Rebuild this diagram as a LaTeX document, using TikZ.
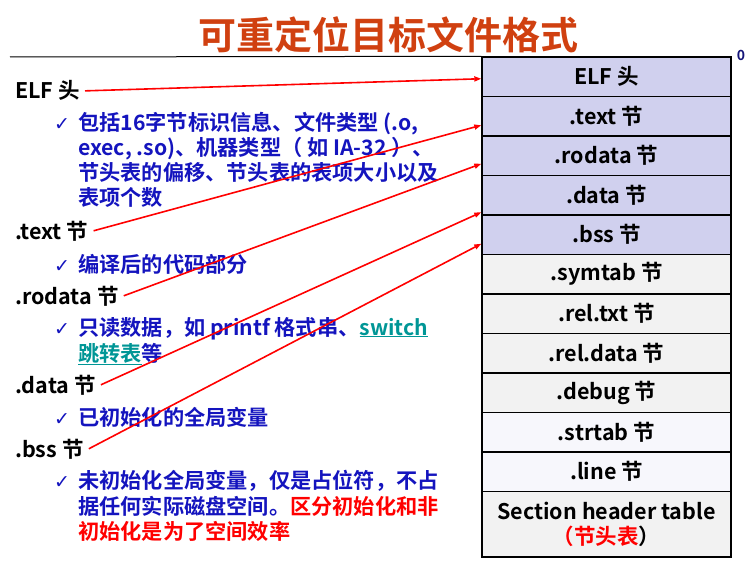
\documentclass[tikz,border=0pt]{standalone}
\usepackage{fontspec}
\setmainfont{Noto Sans CJK SC}[BoldFont={Noto Sans CJK SC Bold}]
\newfontfamily\symfont{DejaVu Sans}
\usetikzlibrary{arrows.meta}
\definecolor{titlered}{RGB}{208,64,16}
\definecolor{txtblue}{RGB}{20,20,190}
\definecolor{tealtxt}{RGB}{0,150,150}
\definecolor{hdrfill}{RGB}{208,208,238}
\definecolor{grayfill}{RGB}{242,242,242}
\definecolor{palefill}{RGB}{247,247,252}
\definecolor{zeroblue}{RGB}{20,20,120}
\tikzset{
  secbox/.style={draw=black, line width=1.4pt, minimum width=249pt, minimum height=39.5pt,
    inner sep=0pt, font=\fontsize{21.5}{25}\selectfont\bfseries, text=black},
  lefttag/.style={anchor=base west, inner sep=2pt, font=\fontsize{21.5}{25}\selectfont\bfseries, text=black},
  desctext/.style={anchor=base west, inner sep=0pt, text=txtblue, font=\fontsize{21.2}{25}\selectfont\bfseries},
  checkmk/.style={anchor=base west, inner sep=0pt, text=txtblue, font=\symfont\fontsize{19}{22}\selectfont},
  ptr/.style={red, line width=1.6pt, -{Triangle[length=7pt,width=5pt]}}
}
\begin{document}
\begin{tikzpicture}[x=1pt,y=-1pt]
\useasboundingbox (0,0) rectangle (751,577);

% title and rule
\node[text=titlered, font=\fontsize{38}{40}\selectfont\bfseries] (title) at (388,35) {可重定位目标文件格式};
\node[text=zeroblue, font=\fontsize{14}{16}\selectfont\bfseries, inner sep=0pt] (zero) at (741,55) {0};

% section stack
\node[secbox, fill=hdrfill]   (b1)  at (606.5,76.75)  {ELF 头};
\node[secbox, fill=hdrfill]   (b2)  at (606.5,116.25) {.text 节};
\node[secbox, fill=hdrfill]   (b3)  at (606.5,155.75) {.rodata 节};
\node[secbox, fill=hdrfill]   (b4)  at (606.5,195.25) {.data 节};
\node[secbox, fill=hdrfill]   (b5)  at (606.5,234.75) {.bss 节};
\node[secbox, fill=grayfill]  (b6)  at (606.5,274.25) {.symtab 节};
\node[secbox, fill=grayfill]  (b7)  at (606.5,313.75) {.rel.txt 节};
\node[secbox, fill=grayfill]  (b8)  at (606.5,353.25) {.rel.data 节};
\node[secbox, fill=grayfill]  (b9)  at (606.5,392.75) {.debug 节};
\node[secbox, fill=palefill]  (b10) at (606.5,432.25) {.strtab 节};
\node[secbox, fill=palefill]  (b11) at (606.5,471.75) {.line 节};
\node[secbox, fill=grayfill, minimum height=65.5pt, align=center] (b12) at (606.5,524.25)
  {Section header table\\{\color{red}（节头表}）};

\draw[line width=1pt] (10,57) -- (b1.north west);

% left column
\node[lefttag] (lelf) at (13,99) {ELF 头};
\node[checkmk] (c1) at (54,131) {✓};
\node[desctext] (d1a) at (78,131) {包括16字节标识信息、文件类型 (.o,};
\node[desctext] (d1b) at (78,156) {exec, .so)、机器类型（ 如 IA-32 ）、};
\node[desctext] (d1c) at (78,181) {节头表的偏移、节头表的表项大小以及};
\node[desctext] (d1d) at (78,206) {表项个数};

\node[lefttag] (ltext) at (13,239) {.text 节};
\node[checkmk] (c2) at (54,272) {✓};
\node[desctext] (d2) at (78,272) {编译后的代码部分};

\node[lefttag] (lrod) at (13,304) {.rodata 节};
\node[checkmk] (c3) at (54,335) {✓};
\node[desctext] (d3a) at (78,335) {只读数据，如 printf 格式串、{\color{tealtxt}\underline{switch}}};
\node[desctext] (d3b) at (78,361) {{\color{tealtxt}\underline{跳转表}}等};

\node[lefttag] (ldata) at (13,393) {.data 节};
\node[checkmk] (c4) at (54,425) {✓};
\node[desctext] (d4) at (78,425) {已初始化的全局变量};

\node[lefttag] (lbss) at (13,457) {.bss 节};
\node[checkmk] (c5) at (54,488) {✓};
\node[desctext] (d5a) at (78,488) {未初始化全局变量，仅是占位符，不占};
\node[desctext] (d5b) at (78,514) {据任何实际磁盘空间。{\color{red}区分初始化和非}};
\node[desctext, text=red] (d5c) at (78,539) {初始化是为了空间效率};

% pointers from labels to sections
\draw[ptr] ([xshift=3pt]lelf.east) -- ([yshift=-2pt]b1.west);
\draw[ptr] ([xshift=3pt]ltext.east) -- ([yshift=-9pt]b2.west);
\draw[ptr] ([xshift=3pt]lrod.east) -- ([yshift=-8pt]b3.west);
\draw[ptr] ([xshift=3pt]ldata.east) -- ([yshift=-17pt]b4.west);
\draw[ptr] ([xshift=3pt]lbss.east) -- ([yshift=-9pt]b5.west);
\end{tikzpicture}
\end{document}
